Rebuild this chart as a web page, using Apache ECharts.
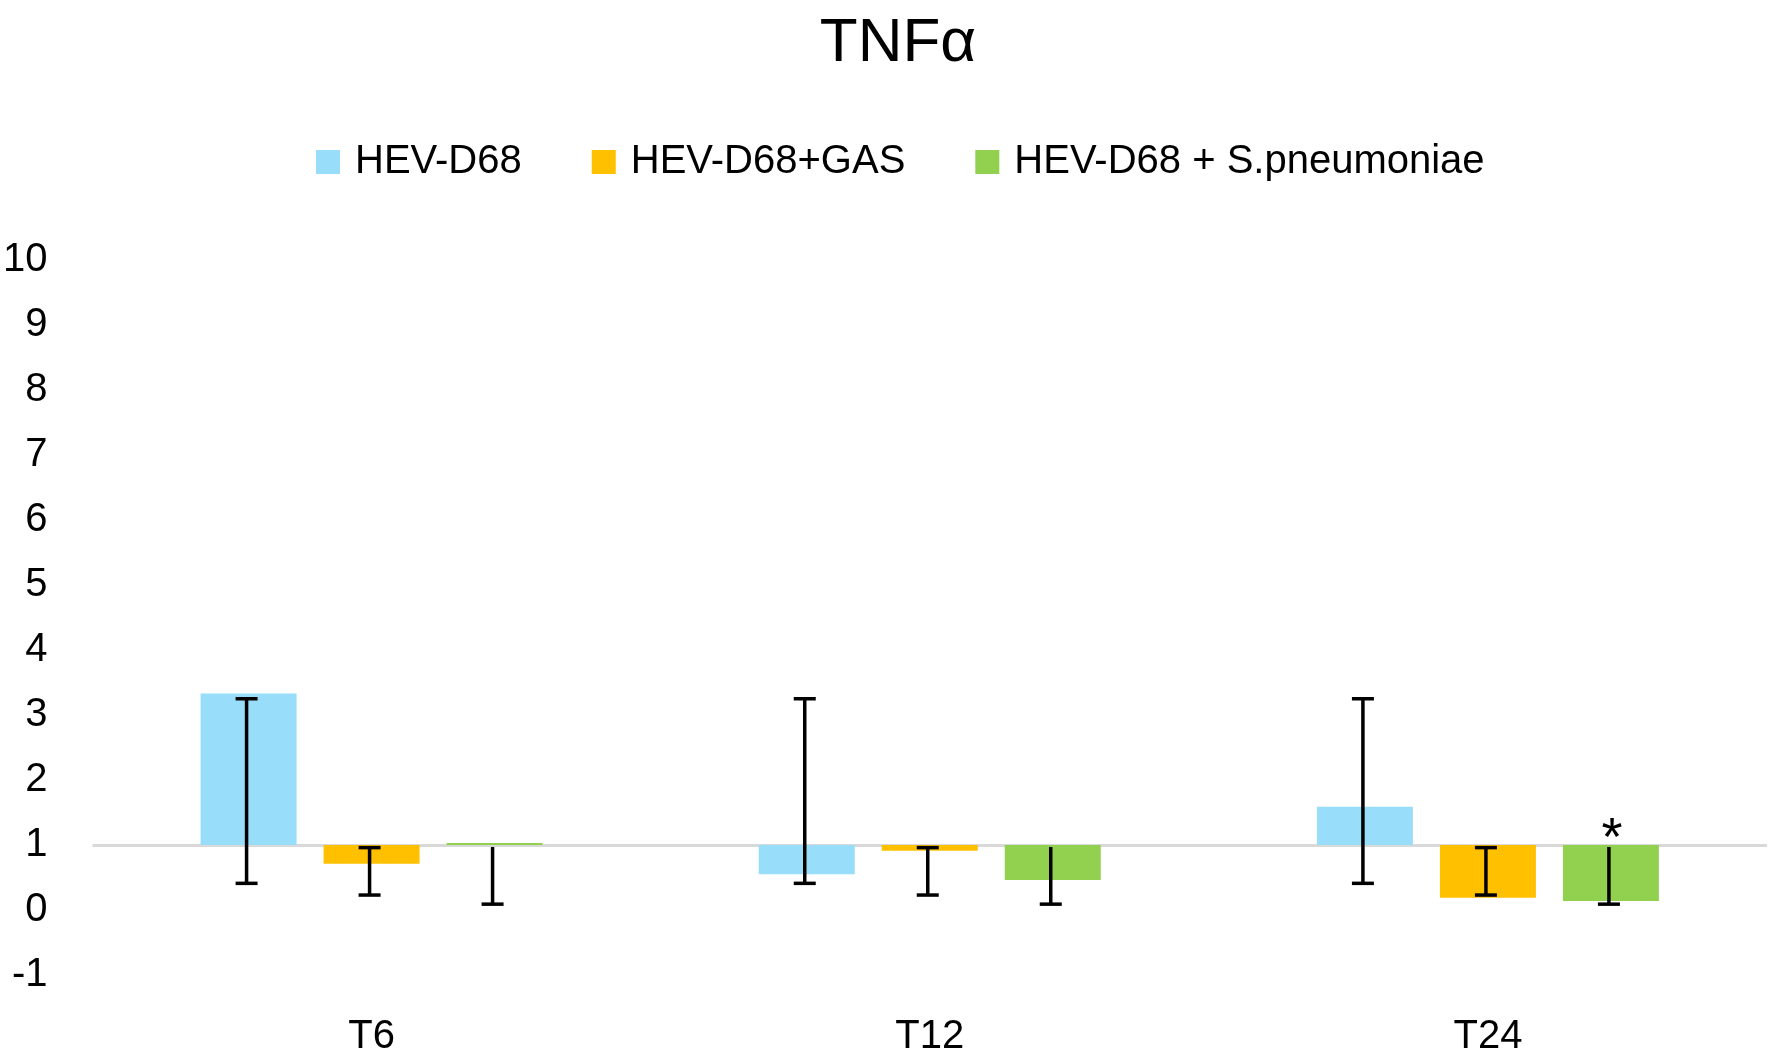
<!DOCTYPE html>
<html>
<head>
<meta charset="utf-8">
<script src="https://cdn.jsdelivr.net/npm/echarts@6/dist/echarts.min.js"></script>
<style>html,body{margin:0;padding:0;background:#fff;}#chart{width:1772px;height:1057px;}</style>
</head>
<body>
<div id="chart"></div>
<script>
// ---- data ----
const categories = ['T6', 'T12', 'T24'];
const seriesNames = ['HEV-D68', 'HEV-D68+GAS', 'HEV-D68 + S.pneumoniae'];
const hevValues = [3.33, 0.55, 1.59];
const gasValues = [0.71, 0.91, 0.19];
const pneumoValues = [1.03, 0.46, 0.14];
const hevErrLow = [0.41, 0.41, 0.41];
const hevErrHigh = [3.25, 3.25, 3.25];
const gasErrLow = [0.23, 0.23, 0.23];
const gasErrHigh = [0.96, 0.96, 0.96];
const pneumoErrLow = [0.09, 0.09, 0.09];
const pneumoErrHigh = [0.97, 0.97, 0.97];
const pneumoMarks = ['', '', '*'];
const pneumoMarkValue = [null, null, 1.29];
const baselineValue = 1;
const yMin = -1, yMax = 10, yStep = 1;

// ---- style ----
const colors = ['#98DEFA', '#FFC000', '#92D050'];
const BAR_W = 96, BAR_GAP = 27;
const FONT = 'Liberation Sans, Arial, sans-serif';

const values = [hevValues, gasValues, pneumoValues];
const errLow = [hevErrLow, gasErrLow, pneumoErrLow];
const errHigh = [hevErrHigh, gasErrHigh, pneumoErrHigh];
const capTop = [true, true, false];

const chart = echarts.init(document.getElementById('chart'));
const series = [];
values.forEach((vals, k) => {
  series.push({
    name: '__base' + k, type: 'bar', stack: 's' + k, stackStrategy: 'all',
    barWidth: BAR_W, barGap: (BAR_GAP / BAR_W * 100) + '%',
    itemStyle: { color: 'transparent' }, silent: true,
    data: vals.map(() => baselineValue), z: 1
  });
  series.push({
    name: seriesNames[k], type: 'bar', stack: 's' + k, stackStrategy: 'all',
    barWidth: BAR_W, barGap: (BAR_GAP / BAR_W * 100) + '%',
    itemStyle: { color: colors[k] },
    data: vals.map(v => v - baselineValue), z: 2,
    markLine: k === 0 ? {
      silent: true, symbol: 'none', label: { show: false },
      lineStyle: { color: '#d9d9d9', width: 3, type: 'solid' },
      data: [{ yAxis: baselineValue }], z: 1
    } : undefined
  });
});
values.forEach((vals, k) => {
  series.push({
    name: '__err' + k, type: 'custom', z: 5, silent: true,
    encode: { x: 0, y: [1, 2] },
    data: categories.map((c, i) => [i, errLow[k][i], errHigh[k][i], pneumoMarkValue[i]]),
    renderItem: function (params, api) {
      const i = api.value(0);
      const x = api.coord([i, 0])[0] + (k - 1) * (BAR_W + BAR_GAP) - 2;
      const yl = api.coord([i, api.value(1)])[1];
      const yh = api.coord([i, api.value(2)])[1];
      const st = { stroke: '#000', lineWidth: 3.5 };
      const kids = [
        { type: 'line', shape: { x1: x, y1: yl, x2: x, y2: yh }, style: st },
        { type: 'line', shape: { x1: x - 11, y1: yl, x2: x + 11, y2: yl }, style: st }
      ];
      if (capTop[k]) kids.push({ type: 'line', shape: { x1: x - 11, y1: yh, x2: x + 11, y2: yh }, style: st });
      if (k === 2 && pneumoMarks[i]) {
        const ym = api.coord([i, pneumoMarkValue[i]])[1];
        kids.push({ type: 'text', x: x + 3, y: ym + 14, style: { text: pneumoMarks[i], fill: '#000', font: '54px ' + FONT, align: 'center', verticalAlign: 'middle' } });
      }
      return { type: 'group', children: kids };
    }
  });
});

chart.setOption({
  animation: false,
  backgroundColor: '#fff',
  title: { text: 'TNFα', left: 893, top: 8, textAlign: 'center', textStyle: { fontFamily: FONT, fontSize: 62, fontWeight: 'normal', color: '#000' } },
  legend: {
    data: seriesNames, top: 137, left: 311, itemWidth: 24, itemHeight: 24, itemGap: 70,
    icon: 'rect',
    textStyle: { fontFamily: FONT, fontSize: 40, color: '#000', padding: [0, 0, 0, 10] }
  },
  grid: { left: 92, right: 5, top: 260, bottom: 82, containLabel: false },
  xAxis: {
    type: 'category', data: categories,
    axisLine: { show: false }, axisTick: { show: false },
    axisLabel: { fontFamily: FONT, fontSize: 40, color: '#000', margin: 42 }
  },
  yAxis: {
    type: 'value', min: yMin, max: yMax, interval: yStep,
    axisLine: { show: false }, axisTick: { show: false }, splitLine: { show: false },
    axisLabel: { fontFamily: FONT, fontSize: 40, color: '#000', margin: 45 }
  },
  series: series
});
</script>
</body>
</html>
